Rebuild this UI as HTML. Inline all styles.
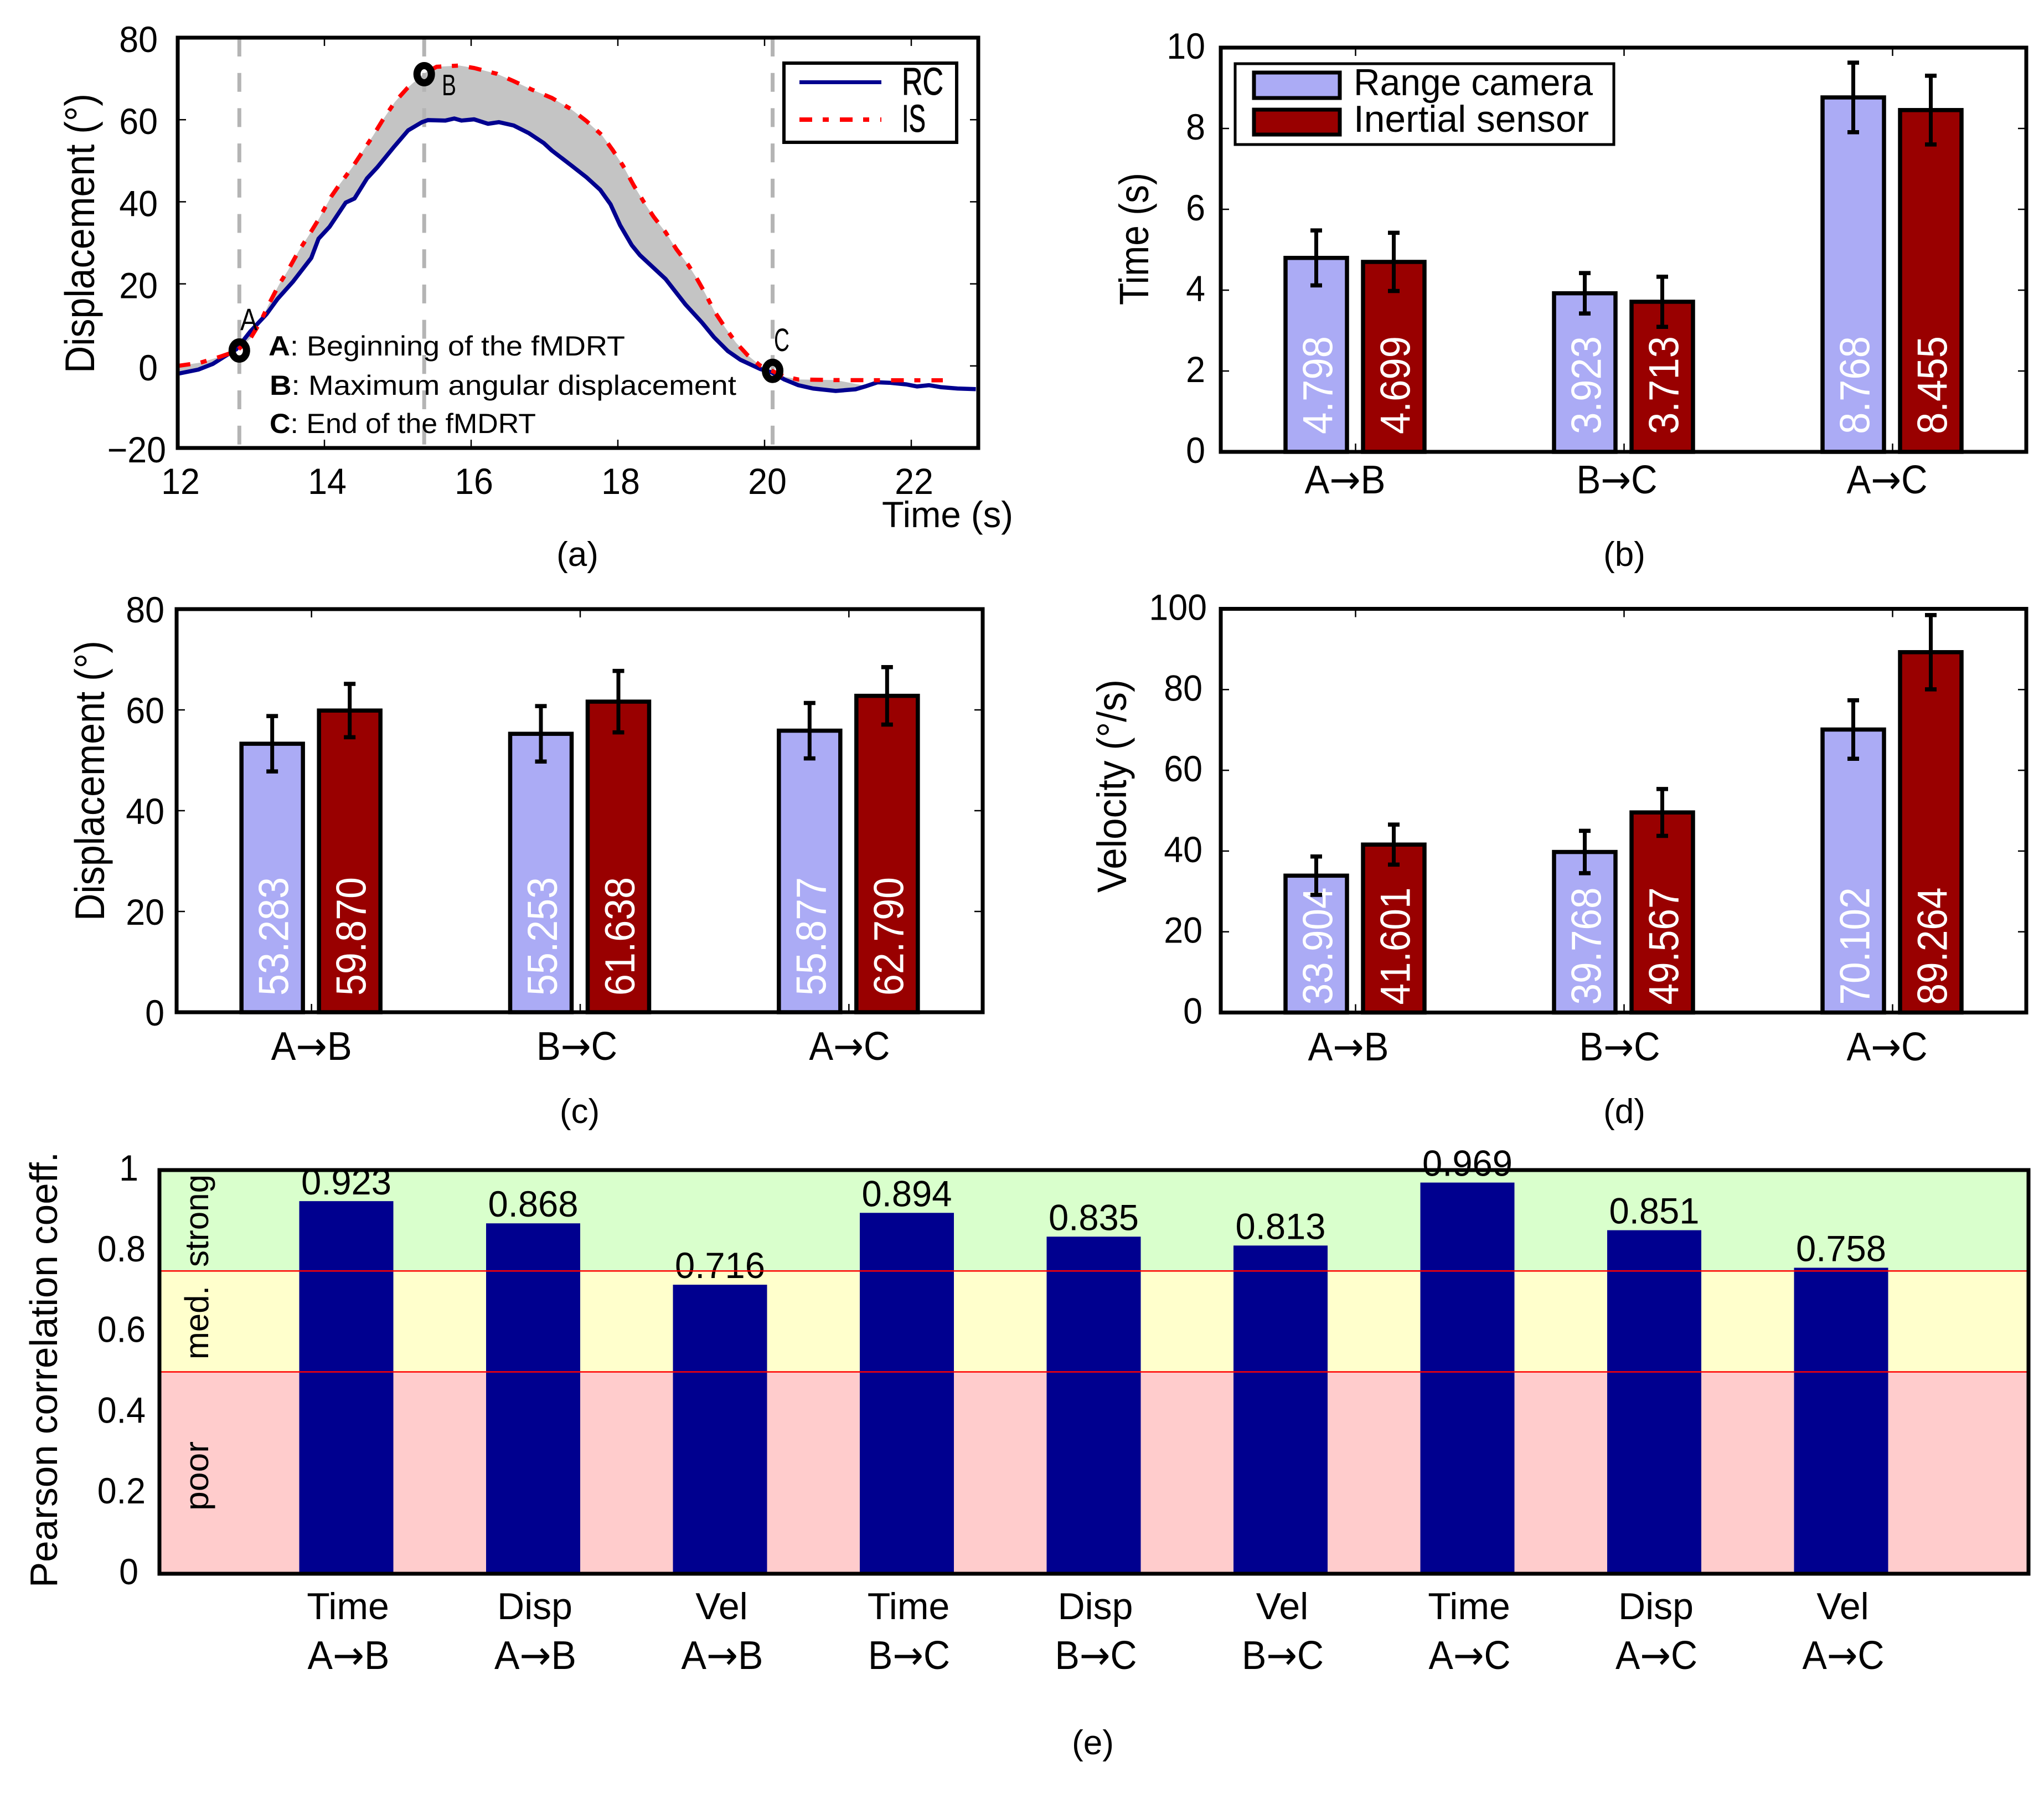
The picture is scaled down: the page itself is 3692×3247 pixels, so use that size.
<!DOCTYPE html>
<html lang="en">
<head>
<meta charset="utf-8">
<title>fMDRT range camera and inertial sensor comparison</title>
<style>
  html, body { margin: 0; padding: 0; background: #fff; }
  svg { display: block; }
  text { font-family: "Liberation Sans", sans-serif; fill: #000; }
</style>
</head>
<body>
<svg id="figure" xmlns="http://www.w3.org/2000/svg" width="3692" height="3247" viewBox="0 0 3692 3247">
  <rect x="0" y="0" width="3692" height="3247" fill="#fff"/>

  <g id="panel-a"></g>
  <g id="panel-b"></g>
  <g id="panel-c"></g>
  <g id="panel-d"></g>
  <g id="panel-e"></g>

  <!-- panel a static text -->
  <text transform="translate(170 674) rotate(-90)" font-size="75" textLength="505" lengthAdjust="spacingAndGlyphs">Displacement (°)</text>
  <text x="1593" y="952" font-size="66" textLength="237" lengthAdjust="spacingAndGlyphs">Time (s)</text>
  <text x="485" y="642" font-size="50" textLength="644" lengthAdjust="spacingAndGlyphs"><tspan font-weight="bold">A</tspan>: Beginning of the fMDRT</text>
  <text x="487" y="713" font-size="50" textLength="843" lengthAdjust="spacingAndGlyphs"><tspan font-weight="bold">B</tspan>: Maximum angular displacement</text>
  <text x="487" y="782" font-size="50" textLength="481" lengthAdjust="spacingAndGlyphs"><tspan font-weight="bold">C</tspan>: End of the fMDRT</text>
  <text x="434" y="596" font-size="56" textLength="31" lengthAdjust="spacingAndGlyphs">A</text>
  <text x="798" y="172" font-size="54" textLength="26" lengthAdjust="spacingAndGlyphs">B</text>
  <text x="1398" y="634" font-size="58" textLength="28" lengthAdjust="spacingAndGlyphs">C</text>
  <g>
    <rect x="1416" y="114" width="312" height="143" fill="#fff" stroke="#000" stroke-width="6"/>
    <line x1="1444" y1="148.5" x2="1592" y2="148.5" stroke="#00008f" stroke-width="7"/>
    <line x1="1444" y1="216" x2="1592" y2="216" stroke="#ff0000" stroke-width="8" stroke-dasharray="23 19 11 20"/>
    <text x="1629" y="171" font-size="70" stroke="#000" stroke-width="1" textLength="75" lengthAdjust="spacingAndGlyphs">RC</text>
    <text x="1629" y="238" font-size="70" stroke="#000" stroke-width="1" textLength="43" lengthAdjust="spacingAndGlyphs">IS</text>
  </g>
  <text x="1043" y="1022" font-size="62" text-anchor="middle">(a)</text>

  <!-- panel b static text -->
  <text transform="translate(2074 551) rotate(-90)" font-size="74" textLength="239" lengthAdjust="spacingAndGlyphs">Time (s)</text>
  <text x="2934" y="1022" font-size="62" text-anchor="middle">(b)</text>

  <!-- panel c static text -->
  <text transform="translate(188 1663) rotate(-90)" font-size="75" textLength="506" lengthAdjust="spacingAndGlyphs">Displacement (°)</text>
  <text x="1047" y="2028" font-size="62" text-anchor="middle">(c)</text>

  <!-- panel d static text -->
  <text transform="translate(2034 1612) rotate(-90)" font-size="74" textLength="385" lengthAdjust="spacingAndGlyphs">Velocity (°/s)</text>
  <text x="2934" y="2028" font-size="62" text-anchor="middle">(d)</text>

  <!-- panel e static text -->
  <text transform="translate(103 2867) rotate(-90)" font-size="70" textLength="787" lengthAdjust="spacingAndGlyphs">Pearson correlation coeff.</text>
  <text x="1974" y="3168" font-size="62" text-anchor="middle">(e)</text>
</svg>

<script>
// ---------- Panel (a) data ----------
const timeRC = [12.0,12.28,12.48,12.63,12.8,12.99,13.21,13.36,13.57,13.82,13.92,14.07,14.29,14.41,14.58,14.72,14.94,15.14,15.33,15.41,15.65,15.77,15.87,16.04,16.23,16.38,16.58,16.79,16.99,17.1,17.37,17.57,17.76,17.9,18.03,18.19,18.3,18.65,18.92,19.15,19.31,19.5,19.67,19.94,20.1,20.27,20.46,20.66,20.97,21.24,21.39,21.54,21.7,21.93,22.08,22.24,22.41,22.63,22.88];
const dispRC = [-1.9,-0.9,0.5,2.2,4.07,8.4,12.6,16.3,20.5,26.3,31,33.9,39.8,40.8,45.7,48.4,53.2,57.4,59.4,59.9,59.8,60.3,59.8,60.1,59,59.4,58.6,56.7,54.3,52.5,48.8,46,42.9,39.4,34.3,29.4,27,21.2,15,10.5,7,3.6,1.5,-0.76,-1.6,-3.3,-4.7,-5.5,-6.1,-5.7,-4.9,-4,-4.1,-4.5,-5,-4.7,-5.2,-5.5,-5.65];
const timeIS = [12.0,12.31,12.57,12.8,12.99,13.13,13.23,13.38,13.5,13.65,13.8,13.92,14.09,14.21,14.38,14.52,14.67,14.79,14.96,15.13,15.35,15.53,15.84,16.04,16.35,16.58,16.82,17.1,17.36,17.57,17.78,17.93,18.07,18.22,18.36,18.49,18.65,18.8,18.96,19.07,19.19,19.32,19.46,19.61,19.77,19.94,20.1,20.27,20.46,20.97,21.74,22.43];
const dispIS = [0,0.8,2.2,3.6,6.7,10.8,14.6,19.8,23.2,28,32.2,35.7,41.2,44.3,48.4,52.2,56.3,59.8,64.3,67.7,71.2,72.9,73.2,72.6,71.2,69.4,67.4,65.3,62.6,59.7,56.3,52.6,48.8,43.9,39.8,36.3,32.6,28.4,24.6,21.5,17.7,13.2,9.4,5.7,2.6,0.1,-1.2,-2.6,-3.3,-3.45,-3.5,-3.5];
const eventTimes = [12.84,15.36,20.11];
const eventDisp = [3.75,71.1,-1.2];
const eventNames = ['a','b','c'];
const lineXTicks = [12,14,16,18,20,22];
const lineYTicks = [80,60,40,20,0,-20];

// ---------- Panels (b)(c)(d) data ----------
const categories = ['A→B','B→C','A→C'];
const timeCamera = [4.798,3.923,8.768];
const timeInertial = [4.699,3.713,8.455];
const timeCameraErr = [0.68,0.5,0.86];
const timeInertialErr = [0.72,0.62,0.85];
const timeTicks = [0,2,4,6,8,10];
const dispCamera = [53.283,55.253,55.877];
const dispInertial = [59.870,61.638,62.790];
const dispCameraErr = [5.5,5.5,5.5];
const dispInertialErr = [5.3,6.1,5.7];
const dispTicks = [0,20,40,60,80];
const velCamera = [33.904,39.768,70.102];
const velInertial = [41.601,49.567,89.264];
const velCameraErr = [4.75,5.25,7.25];
const velInertialErr = [4.95,5.8,9.2];
const velTicks = [0,20,40,60,80,100];

// ---------- Panel (e) data ----------
const corrValues = [0.923,0.868,0.716,0.894,0.835,0.813,0.969,0.851,0.758];
const corrMeasures = ['Time','Disp','Vel','Time','Disp','Vel','Time','Disp','Vel'];
const corrIntervals = ['A→B','A→B','A→B','B→C','B→C','B→C','A→C','A→C','A→C'];
const corrTicks = ['0','0.2','0.4','0.6','0.8','1'];
const zoneEdges = [0,0.5,0.75,1];
const zoneNames = ['poor','med.','strong'];

const SVGNS = 'http://www.w3.org/2000/svg';
const NAVY = '#00008f', LAV = '#ababf5', MAROON = '#990000';

function make(parent, tag, attrs, content) {
  const el = document.createElementNS(SVGNS, tag);
  for (const k in attrs) el.setAttribute(k, attrs[k]);
  if (content !== undefined) el.textContent = content;
  parent.appendChild(el);
  return el;
}

// Narrow a tick label slightly along its baseline, as in the source artwork.
function narrow(el, factor) {
  el.setAttribute('textLength', (el.getComputedTextLength() * factor).toFixed(1));
  el.setAttribute('lengthAdjust', 'spacingAndGlyphs');
}

// Interval label such as A→B: the arrow glyph comes from DejaVu, which draws it larger.
function intervalLabel(parent, attrs, label) {
  const el = make(parent, 'text', attrs);
  const parts = label.split('→');
  el.appendChild(document.createTextNode(parts[0]));
  make(el, 'tspan', {style: 'font-family:"DejaVu Sans",sans-serif', 'font-size': 72}, '→');
  el.appendChild(document.createTextNode(parts[1]));
  return el;
}

function drawTicks(g, box, xs, ys) {
  xs.forEach(function (x) {
    const b = make(g, 'line', {x1: x, x2: x, y1: box.bottom, y2: box.bottom - 15, stroke: '#000', 'stroke-width': 2.5});
    
    
    const t = make(g, 'line', {x1: x, x2: x, y1: box.top, y2: box.top + 15, stroke: '#000', 'stroke-width': 2.5});
    
    
  });
  ys.forEach(function (y) {
    const l = make(g, 'line', {x1: box.left, x2: box.left + 15, y1: y, y2: y, stroke: '#000', 'stroke-width': 2.5});
    
    
    const r = make(g, 'line', {x1: box.right, x2: box.right - 15, y1: y, y2: y, stroke: '#000', 'stroke-width': 2.5});
    
    
  });
}

function drawFrame(g, box, width) {
  const f = make(g, 'rect', {x: box.left, y: box.top, width: box.right - box.left, height: box.bottom - box.top, fill: 'none', stroke: '#000', 'stroke-width': width});
  
  
}

// ---------- Panel (a) ----------
(function () {
  const g = document.getElementById('panel-a');
  const box = {left: 321, right: 1767, top: 68, bottom: 809};
  const xS = function (v) { return box.left + (v - 12) * 132.5; };
  const yS = function (v) { return box.bottom - (v + 20) * 7.41; };
  const path = function (xs, ys) { return xs.map(function (x, i) { return xS(x).toFixed(1) + ',' + yS(ys[i]).toFixed(1); }); };

  drawTicks(g, box, lineXTicks.map(xS), lineYTicks.map(yS));

  const endShade = 21.5;
  const upper = [], lower = [];
  timeIS.forEach(function (t, i) { if (t <= endShade) upper.push(xS(t).toFixed(1) + ',' + yS(dispIS[i]).toFixed(1)); });
  timeRC.forEach(function (t, i) { if (t <= endShade) lower.push(xS(t).toFixed(1) + ',' + yS(dispRC[i]).toFixed(1)); });
  const shade = make(g, 'polygon', {points: upper.concat(lower.reverse()).join(' '), fill: '#c4c4c4'});
  
  

  eventTimes.forEach(function (t, i) {
    const v = make(g, 'line', {x1: xS(t), x2: xS(t), y1: box.top, y2: box.bottom, stroke: '#b4b4b4', 'stroke-width': 7, 'stroke-dasharray': '34 29.7'});
    
    
  });

  const rc = make(g, 'polyline', {points: path(timeRC, dispRC).join(' '), fill: 'none', stroke: NAVY, 'stroke-width': 7.5, 'stroke-linejoin': 'round'});
  
  
  const is = make(g, 'polyline', {points: path(timeIS, dispIS).join(' '), fill: 'none', stroke: '#ff0000', 'stroke-width': 7.5, 'stroke-dasharray': '23 19 11 20'});
  
  

  eventTimes.forEach(function (t, i) {
    const m = make(g, 'ellipse', {cx: xS(t), cy: yS(eventDisp[i]), rx: 13, ry: 15.5, fill: 'none', stroke: '#000', 'stroke-width': 13});
    
    
  });

  drawFrame(g, box, 7);

  lineXTicks.forEach(function (t) {
    const l = make(g, 'text', {x: xS(t) + 5, y: 892, 'font-size': 66, 'text-anchor': 'middle'}, String(t));
    
    
    narrow(l, 0.95);
  });
  lineYTicks.forEach(function (t) {
    const s = t < 0 ? '−' + Math.abs(t) : String(t);
    const l = make(g, 'text', {x: t < 0 ? 300 : 285, y: yS(t) + 26, 'font-size': 66, 'text-anchor': 'end'}, s);
    
    
    narrow(l, 0.95);
  });
})();

// ---------- Grouped bar panels ----------
function groupedBars(id, cfg, cam, ine, camErr, ineErr, ticks) {
  const g = document.getElementById(id);
  const box = cfg.box;
  const step = (box.right - box.left) / 3;
  const xC = function (i) { return box.left + (i + 0.5) * step; };
  const yS = function (v) { return box.bottom - (v / cfg.yMax) * (box.bottom - box.top); };

  drawTicks(g, box, categories.map(function (c, i) { return xC(i) + 1; }), ticks.map(yS));

  const drawOne = function (i, v, err, fill, off, series) {
    const cx = xC(i) + off;
    const bar = make(g, 'rect', {x: cx - 55.5, y: yS(v), width: 111, height: box.bottom - yS(v), fill: fill, stroke: '#000', 'stroke-width': 7.5});
    
    

    const txt = make(g, 'text', {transform: 'translate(' + (cx + 29) + ' ' + (box.bottom - cfg.labelGap) + ') rotate(-90)', 'font-size': 76, textLength: cfg.labelLen, lengthAdjust: 'spacingAndGlyphs', style: 'fill:#fff'}, v.toFixed(3));
    
    

    const e = make(g, 'g', {stroke: '#000'});
    
    
    const top = yS(v + err), bot = yS(v - err);
    make(e, 'line', {x1: cx, x2: cx, y1: top, y2: bot, 'stroke-width': 7});
    make(e, 'line', {x1: cx - 10.5, x2: cx + 10.5, y1: top, y2: top, 'stroke-width': 7.5});
    make(e, 'line', {x1: cx - 10.5, x2: cx + 10.5, y1: bot, y2: bot, 'stroke-width': 7.5});
  };

  categories.forEach(function (c, i) {
    drawOne(i, cam[i], camErr[i], LAV, -70, 'range-camera');
    drawOne(i, ine[i], ineErr[i], MAROON, 70, 'inertial-sensor');
  });

  drawFrame(g, box, 7);

  categories.forEach(function (c, i) {
    const l = intervalLabel(g, {x: xC(i) + 1 + cfg.catShift[i], y: cfg.catBase, 'font-size': 72, 'text-anchor': 'middle', textLength: 146, lengthAdjust: 'spacingAndGlyphs'}, c);
    
    
  });
  ticks.forEach(function (t) {
    const s = String(t);
    const l = make(g, 'text', {x: s.length > 2 ? cfg.tickRight + 8 : cfg.tickRight, y: yS(t) + cfg.tickDrop, 'font-size': 66, 'text-anchor': 'end'}, s);
    
    
    narrow(l, 0.95);
  });
}

groupedBars('panel-b', {box: {left: 2205, right: 3660, top: 86, bottom: 816}, yMax: 10, labelGap: 32, labelLen: 177, catShift: [-19, -13, -10], catBase: 891, tickRight: 2177, tickDrop: 20}, timeCamera, timeInertial, timeCameraErr, timeInertialErr, timeTicks);
groupedBars('panel-c', {box: {left: 319, right: 1775, top: 1100, bottom: 1828}, yMax: 80, labelGap: 30, labelLen: 214, catShift: [0, -6, 1], catBase: 1914, tickRight: 297, tickDrop: 24}, dispCamera, dispInertial, dispCameraErr, dispInertialErr, dispTicks);
groupedBars('panel-d', {box: {left: 2205, right: 3660, top: 1099.5, bottom: 1828.5}, yMax: 100, labelGap: 14, labelLen: 212, catShift: [-13, -8, -10], catBase: 1915, tickRight: 2172, tickDrop: 20}, velCamera, velInertial, velCameraErr, velInertialErr, velTicks);

// Legend for panel b
(function () {
  const g = document.getElementById('panel-b');
  const leg = make(g, 'g', {});
  
  
  const b = make(leg, 'rect', {x: 2231, y: 115, width: 684, height: 146, fill: '#fff', stroke: '#000', 'stroke-width': 5});
  
  
  const s1 = make(leg, 'rect', {x: 2265, y: 131, width: 155, height: 46, fill: LAV, stroke: '#000', 'stroke-width': 7});
  
  
  const s2 = make(leg, 'rect', {x: 2265, y: 198, width: 155, height: 45, fill: MAROON, stroke: '#000', 'stroke-width': 7});
  
  
  const t1 = make(leg, 'text', {x: 2445, y: 172, 'font-size': 68, textLength: 432, lengthAdjust: 'spacingAndGlyphs'}, 'Range camera');
  
  
  const t2 = make(leg, 'text', {x: 2445, y: 238, 'font-size': 68, textLength: 425, lengthAdjust: 'spacingAndGlyphs'}, 'Inertial sensor');
  
  
})();

// ---------- Panel (e) ----------
(function () {
  const g = document.getElementById('panel-e');
  const box = {left: 288, right: 3664, top: 2113, bottom: 2842};
  const xC = function (i) { return box.left + (i + 1) * 337.5; };
  const yS = function (v) { return box.bottom - v * (box.bottom - box.top); };
  const zoneFill = ['#ffcccc', '#ffffcc', '#d9ffcc'];
  const zoneLabelLen = [125, 133, 167];
  const zoneLabelBottom = [2728, 2455, 2288];

  zoneNames.forEach(function (n, i) {
    const z = make(g, 'rect', {x: box.left, y: yS(zoneEdges[i + 1]), width: box.right - box.left, height: yS(zoneEdges[i]) - yS(zoneEdges[i + 1]), fill: zoneFill[i]});
    
    
  });

  corrValues.forEach(function (v, i) {
    const bar = make(g, 'rect', {x: xC(i) - 85, y: yS(v), width: 170, height: box.bottom - yS(v), fill: NAVY});
    
    
    const t = make(g, 'text', {x: xC(i), y: yS(v) - 12, 'font-size': 66, 'text-anchor': 'middle', textLength: 163, lengthAdjust: 'spacingAndGlyphs'}, v.toFixed(3));
    
    
    const m = make(g, 'text', {x: xC(i) + 3, y: 2924, 'font-size': 68, 'text-anchor': 'middle'}, corrMeasures[i]);
    
    
    const p = intervalLabel(g, {x: xC(i) + 4, y: 3014, 'font-size': 72, 'text-anchor': 'middle', textLength: 148, lengthAdjust: 'spacingAndGlyphs'}, corrIntervals[i]);
    
    
  });

  zoneEdges.slice(1, 3).forEach(function (v) {
    const r = make(g, 'line', {x1: box.left, x2: box.right, y1: yS(v), y2: yS(v), stroke: '#ff0000', 'stroke-width': 2.5});
    
    
  });

  zoneNames.forEach(function (n, i) {
    const t = make(g, 'text', {transform: 'translate(376 ' + zoneLabelBottom[i] + ') rotate(-90)', 'font-size': 60, textLength: zoneLabelLen[i], lengthAdjust: 'spacingAndGlyphs'}, n);
    
    
  });

  drawFrame(g, box, 7);

  corrTicks.forEach(function (t) {
    const l = make(g, 'text', {x: t.length > 1 ? 263 : 250, y: yS(parseFloat(t)) + 19, 'font-size': 66, 'text-anchor': 'end'}, t);
    
    
    narrow(l, 0.95);
  });
})();
</script>
</body>
</html>
